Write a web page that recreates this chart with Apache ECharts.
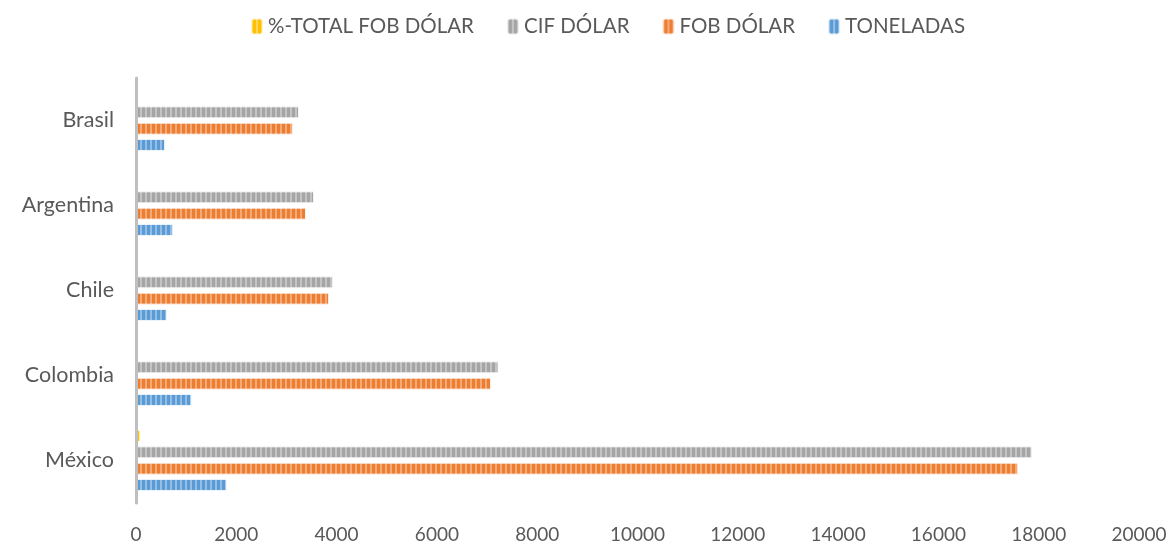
<!DOCTYPE html>
<html><head><meta charset="utf-8">
<script src="https://cdn.jsdelivr.net/npm/echarts@6/dist/echarts.min.js"></script>
<style>html,body{margin:0;padding:0;background:#fff}#c{width:1176px;height:546px}</style>
</head><body><div id="c"></div>
<script>
const categories = ['México', 'Colombia', 'Chile', 'Argentina', 'Brasil'];
const pctTotalFob = [85, 4, 2, 2, 2];
const cifDolar = [17870, 7230, 3930, 3550, 3250];
const fobDolar = [17590, 7080, 3850, 3390, 3130];
const toneladas = [1810, 1110, 620, 740, 580];
const xTicks = { min: 0, max: 20000, interval: 2000 };

const font = 'Lato';
const txt = '#595959';
function stripe(color){
  return {
    type: 'bar', barWidth: 12, barGap: '36%', z: 2,
    itemStyle: { color: color, borderColor: 'rgba(255,255,255,0.5)', borderWidth: 1,
      decal: { symbol: 'rect', symbolSize: 1, dashArrayX: [[2, 2.5]], dashArrayY: [1, 0], color: 'rgba(255,255,255,0.35)' } },
    emphasis: { disabled: true }
  };
}
const chart = echarts.init(document.getElementById('c'), null, { renderer: 'canvas' });
chart.setOption({
  animation: false,
  textStyle: { fontFamily: font },
  legend: {
    top: 11, left: 245, itemWidth: 12, itemHeight: 16, itemGap: 32,
    textStyle: { fontFamily: font, fontSize: 20.5, color: txt },
    data: ['%-TOTAL FOB DÓLAR', 'CIF DÓLAR', 'FOB DÓLAR', 'TONELADAS']
  },
  grid: { left: 136, right: 37, top: 78, bottom: 43, containLabel: false },
  xAxis: {
    type: 'value', min: xTicks.min, max: xTicks.max, interval: xTicks.interval,
    axisLine: { show: false }, axisTick: { show: false }, splitLine: { show: false },
    axisLabel: { fontFamily: font, fontSize: 19, color: txt, margin: 22, formatter: v => String(v) }
  },
  yAxis: {
    type: 'category', data: categories, z: 5,
    axisLine: { show: true, lineStyle: { color: '#BFBFBF', width: 3 } },
    axisTick: { show: false },
    axisLabel: { fontFamily: font, fontSize: 21.5, color: txt, margin: 22 }
  },
  series: [
    Object.assign(stripe('#FFC000'), { name: '%-TOTAL FOB DÓLAR', data: pctTotalFob }),
    Object.assign(stripe('#A5A5A5'), { name: 'CIF DÓLAR', data: cifDolar }),
    Object.assign(stripe('#ED7D31'), { name: 'FOB DÓLAR', data: fobDolar }),
    Object.assign(stripe('#5B9BD5'), { name: 'TONELADAS', data: toneladas })
  ]
});
</script></body></html>
